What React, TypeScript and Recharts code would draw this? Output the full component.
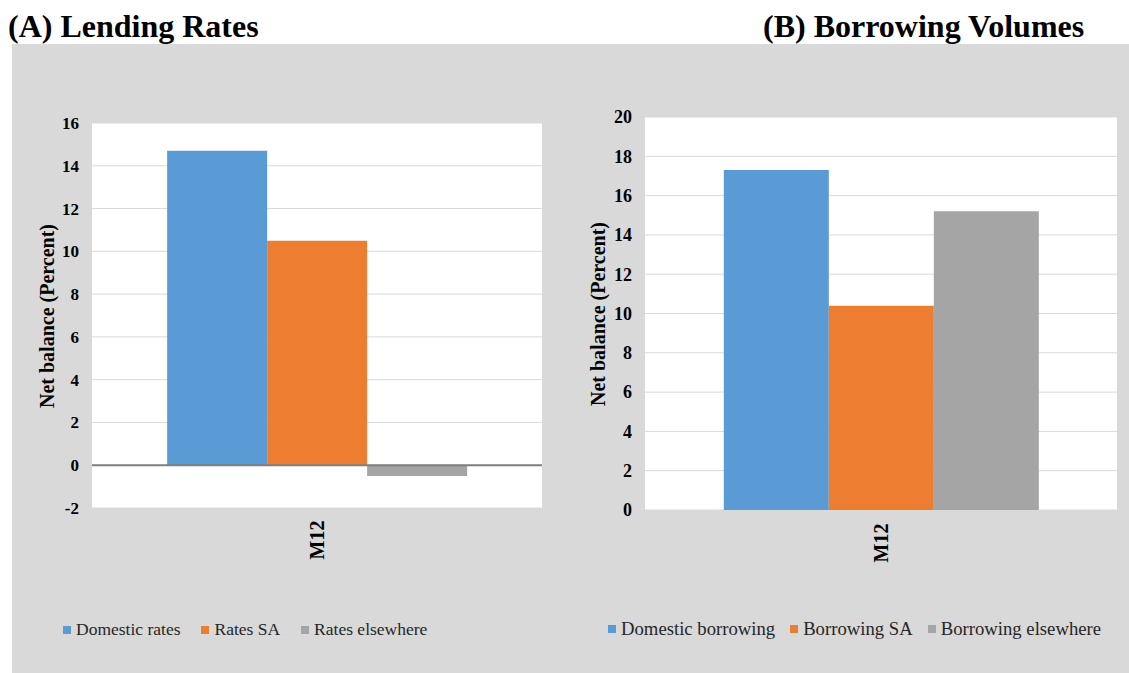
import React from 'react';
import { BarChart, Bar, XAxis, YAxis, CartesianGrid, ReferenceLine } from 'recharts';

const categories = ['M12'];

const lendingNames = ['Domestic rates', 'Rates SA', 'Rates elsewhere'];
const lendingDomestic = [14.7];
const lendingSA = [10.5];
const lendingElsewhere = [-0.5];
const lendingTicks = [-2, 0, 2, 4, 6, 8, 10, 12, 14, 16];

const borrowingNames = ['Domestic borrowing', 'Borrowing SA', 'Borrowing elsewhere'];
const borrowingDomestic = [17.3];
const borrowingSA = [10.4];
const borrowingElsewhere = [15.2];
const borrowingTicks = [0, 2, 4, 6, 8, 10, 12, 14, 16, 18, 20];

const colors = ['#5b9bd5', '#ed7d31', '#a5a5a5'];
const FONT = '"Liberation Serif", "Times New Roman", serif';

const lendingData = categories.map((c, i) => ({
  cat: c,
  s0: lendingDomestic[i],
  s1: lendingSA[i],
  s2: lendingElsewhere[i],
}));
const borrowingData = categories.map((c, i) => ({
  cat: c,
  s0: borrowingDomestic[i],
  s1: borrowingSA[i],
  s2: borrowingElsewhere[i],
}));

const makeXTick = (dy: number) => (props: any) => {
  const { x, y, payload } = props;
  const cy = y + dy;
  return (
    <text
      x={x}
      y={cy}
      transform={`rotate(-90, ${x}, ${cy})`}
      textAnchor="middle"
      dominantBaseline="central"
      fontFamily={FONT}
      fontWeight="bold"
      fontSize={20}
      fill="#000"
    >
      {payload.value}
    </text>
  );
};

const Legend = ({ names, left, top, fontSize, gap }: any) => (
  <div
    style={{
      position: 'absolute',
      left,
      top,
      display: 'flex',
      alignItems: 'center',
      fontFamily: FONT,
      fontSize,
      color: '#262626',
      whiteSpace: 'nowrap',
      lineHeight: 1,
    }}
  >
    {names.map((n: string, i: number) => (
      <div key={n} style={{ display: 'flex', alignItems: 'center', marginRight: gap }}>
        <div style={{ width: 8, height: 8, background: colors[i], marginRight: 5 }} />
        <span>{n}</span>
      </div>
    ))}
  </div>
);

const YTitle = ({ x, y }: any) => (
  <text
    x={x}
    y={y}
    transform={`rotate(-90, ${x}, ${y})`}
    textAnchor="middle"
    dominantBaseline="central"
    fontFamily={FONT}
    fontWeight="bold"
    fontSize={20}
    fill="#000"
  >
    Net balance (Percent)
  </text>
);

export default function App() {
  return (
    <div style={{ position: 'absolute', left: 0, top: 0, width: 1129, height: 673, background: '#fff', overflow: 'hidden' }}>
      <div style={{ position: 'absolute', left: 12, top: 44, width: 1117, height: 629, background: '#d9d9d9' }} />

      <div style={{ position: 'absolute', left: 12, top: 44 }}>
        <BarChart
          width={555}
          height={629}
          data={lendingData}
          margin={{ top: 79, right: 25, bottom: 105, left: 20 }}
          barCategoryGap="16.7%"
          barGap={0}
        >
          <CartesianGrid vertical={false} stroke="#d9d9d9" fill="#ffffff" />
          <XAxis dataKey="cat" axisLine={false} tickLine={false} height={60} tick={makeXTick(24)} interval={0} />
          <YAxis
            width={60}
            domain={[-2, 16]}
            ticks={lendingTicks}
            axisLine={false}
            tickLine={false}
            tickMargin={7}
            tick={{ fontFamily: FONT, fontWeight: 'bold', fontSize: 17, fill: '#000' }}
          />
          <Bar dataKey="s0" name={lendingNames[0]} fill={colors[0]} isAnimationActive={false} />
          <Bar dataKey="s1" name={lendingNames[1]} fill={colors[1]} isAnimationActive={false} />
          <Bar dataKey="s2" name={lendingNames[2]} fill={colors[2]} isAnimationActive={false} />
          <ReferenceLine y={0} stroke="#7f7f7f" strokeWidth={2} />
        </BarChart>
      </div>

      <div style={{ position: 'absolute', left: 567, top: 44 }}>
        <BarChart
          width={562}
          height={629}
          data={borrowingData}
          margin={{ top: 73, right: 12, bottom: 103, left: 18 }}
          barCategoryGap="16.7%"
          barGap={0}
        >
          <CartesianGrid vertical={false} stroke="#d9d9d9" fill="#ffffff" />
          <XAxis dataKey="cat" axisLine={false} tickLine={false} height={60} tick={makeXTick(25)} interval={0} />
          <YAxis
            width={60}
            domain={[0, 20]}
            ticks={borrowingTicks}
            axisLine={false}
            tickLine={false}
            tickMargin={7}
            tick={{ fontFamily: FONT, fontWeight: 'bold', fontSize: 18, fill: '#000' }}
          />
          <Bar dataKey="s0" name={borrowingNames[0]} fill={colors[0]} isAnimationActive={false} />
          <Bar dataKey="s1" name={borrowingNames[1]} fill={colors[1]} isAnimationActive={false} />
          <Bar dataKey="s2" name={borrowingNames[2]} fill={colors[2]} isAnimationActive={false} />
        </BarChart>
      </div>

      <svg style={{ position: 'absolute', left: 0, top: 0 }} width={1129} height={673}>
        <text x={8} y={37} fontFamily={FONT} fontWeight="bold" fontSize={32} fill="#000">
          (A) Lending Rates
        </text>
        <text x={763} y={37} fontFamily={FONT} fontWeight="bold" fontSize={32} fill="#000">
          (B) Borrowing Volumes
        </text>
        <YTitle x={47} y={316} />
        <YTitle x={598} y={314} />
      </svg>

      <Legend names={lendingNames} left={63} top={621} fontSize={17.5} gap={21} />
      <Legend names={borrowingNames} left={608} top={620} fontSize={18.7} gap={15} />
    </div>
  );
}
